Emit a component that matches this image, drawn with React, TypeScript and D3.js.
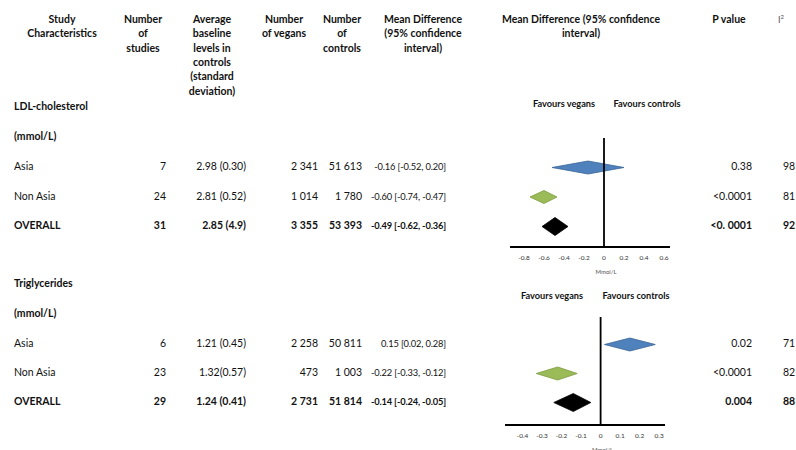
import React from "react";
import * as d3 from "d3";

// ---------- data ----------
const CATEGORIES = ["Asia", "Non Asia", "OVERALL"];

const LDL_STUDIES = [7, 24, 31];
const LDL_BASELINE = ["2.98 (0.30)", "2.81 (0.52)", "2.85 (4.9)"];
const LDL_VEGANS = [2341, 1014, 3355];
const LDL_CONTROLS = [51613, 1780, 53393];
const LDL_MD = [-0.16, -0.6, -0.49];
const LDL_LO = [-0.52, -0.74, -0.62];
const LDL_HI = [0.2, -0.47, -0.36];
const LDL_P = ["0.38", "<0.0001", "<0. 0001"];
const LDL_I2 = ["98", "81", "92"];
const LDL_TICKS = [-0.8, -0.6, -0.4, -0.2, 0, 0.2, 0.4, 0.6];

const TG_STUDIES = [6, 23, 29];
const TG_BASELINE = ["1.21 (0.45)", "1.32(0.57)", "1.24 (0.41)"];
const TG_VEGANS = [2258, 473, 2731];
const TG_CONTROLS = [50811, 1003, 51814];
const TG_MD = [0.15, -0.22, -0.14];
const TG_LO = [0.02, -0.33, -0.24];
const TG_HI = [0.28, -0.12, -0.05];
const TG_P = ["0.02", "<0.0001", "0.004"];
const TG_I2 = ["71", "82", "88"];
const TG_TICKS = [-0.4, -0.3, -0.2, -0.1, 0, 0.1, 0.2, 0.3];

const HEADERS: { x: number; lines: string[] }[] = [
  { x: 62, lines: ["Study", "Characteristics"] },
  { x: 143, lines: ["Number", "of", "studies"] },
  { x: 212, lines: ["Average", "baseline", "levels in", "controls", "(standard", "deviation)"] },
  { x: 284, lines: ["Number", "of vegans"] },
  { x: 342, lines: ["Number", "of", "controls"] },
  { x: 423, lines: ["Mean Difference", "(95% confidence", "interval)"] },
  { x: 581, lines: ["Mean Difference (95% confidence", "interval)"] },
  { x: 729, lines: ["P value"] },
];

const locale = d3.formatLocale({
  decimal: ".",
  thousands: "\u00a0",
  grouping: [3],
  currency: ["", ""],
  minus: "-",
});
const fmt2 = locale.format(".2f");
const fmtInt = locale.format(",d");
const fmtTick = (v: number) => (v === 0 ? "0" : locale.format(".1f")(v));

const FONT = "Lato, 'Open Sans', sans-serif";
const COLORS = ["#4f81bd", "#9bbb59", "#000000"];
const STROKES = ["#3a6496", "#7a9a3e", "#000000"];

type Section = {
  title: string;
  titleY: number;
  unitY: number;
  rowY: [number, number];
  studies: number[];
  baseline: string[];
  vegans: number[];
  controls: number[];
  md: number[];
  lo: number[];
  hi: number[];
  p: string[];
  i2: string[];
  ticks: number[];
  domain: [number, number];
  axisRange: [number, number];
  axisY: number;
  lineTop: number;
  favoursY: number;
  favoursX: [number, number];
};

const SECTIONS: Section[] = [
  {
    title: "LDL-cholesterol",
    titleY: 110,
    unitY: 140,
    rowY: [170, 229],
    studies: LDL_STUDIES,
    baseline: LDL_BASELINE,
    vegans: LDL_VEGANS,
    controls: LDL_CONTROLS,
    md: LDL_MD,
    lo: LDL_LO,
    hi: LDL_HI,
    p: LDL_P,
    i2: LDL_I2,
    ticks: LDL_TICKS,
    domain: [-0.94, 0.66],
    axisRange: [510, 670],
    axisY: 247,
    lineTop: 138,
    favoursY: 107,
    favoursX: [564, 647],
  },
  {
    title: "Triglycerides",
    titleY: 287,
    unitY: 317,
    rowY: [347, 405],
    studies: TG_STUDIES,
    baseline: TG_BASELINE,
    vegans: TG_VEGANS,
    controls: TG_CONTROLS,
    md: TG_MD,
    lo: TG_LO,
    hi: TG_HI,
    p: TG_P,
    i2: TG_I2,
    ticks: TG_TICKS,
    domain: [-0.49, 0.33],
    axisRange: [505, 665],
    axisY: 425,
    lineTop: 317,
    favoursY: 299,
    favoursX: [552, 636],
  },
];

function SectionView({ s }: { s: Section }) {
  const x = d3.scaleLinear().domain(s.domain).range(s.axisRange);
  const y = d3.scalePoint<string>().domain(CATEGORIES).range(s.rowY);
  const line = d3.line<[number, number]>();
  const rowFont = 10.5;
  return (
    <g>
      <text x={14} y={s.titleY} fontWeight="bold" fontSize={10.5}>
        {s.title}
      </text>
      <text x={14} y={s.unitY} fontWeight="bold" fontSize={10.5}>
        (mmol/L)
      </text>
      <text x={s.favoursX[0]} y={s.favoursY} fontWeight="bold" fontSize={9.2} textAnchor="middle">
        Favours vegans
      </text>
      <text x={s.favoursX[1]} y={s.favoursY} fontWeight="bold" fontSize={9.2} textAnchor="middle">
        Favours controls
      </text>
      {CATEGORIES.map((c, i) => {
        const yy = y(c) as number;
        const bold = c === "OVERALL" ? "bold" : "normal";
        const h = c === "OVERALL" ? 9 : 6.5;
        const dy = yy - 2.5;
        const pts: [number, number][] = [
          [x(s.lo[i]), dy],
          [x(s.md[i]), dy - h],
          [x(s.hi[i]), dy],
          [x(s.md[i]), dy + h],
        ];
        return (
          <g key={c} fontSize={rowFont} fontWeight={bold}>
            <text x={14} y={yy}>{c}</text>
            <text x={166} y={yy} textAnchor="end">{s.studies[i]}</text>
            <text x={246} y={yy} textAnchor="end">{s.baseline[i]}</text>
            <text x={318} y={yy} textAnchor="end">{fmtInt(s.vegans[i])}</text>
            <text x={362} y={yy} textAnchor="end">{fmtInt(s.controls[i])}</text>
            <text x={446} y={yy} textAnchor="end" fontSize={9.3} letterSpacing={-0.15}>
              {`${fmt2(s.md[i])} [${fmt2(s.lo[i])}, ${fmt2(s.hi[i])}]`}
            </text>
            <text x={752} y={yy} textAnchor="end">{s.p[i]}</text>
            <text x={783} y={yy}>{s.i2[i]}</text>
            <path
              d={line(pts) + "Z"}
              fill={COLORS[i]}
              stroke={STROKES[i]}
              strokeWidth={0.8}
            />
          </g>
        );
      })}
      <line x1={x(0)} x2={x(0)} y1={s.lineTop} y2={s.axisY} stroke="#000" strokeWidth={1.8} />
      <line x1={s.axisRange[0]} x2={s.axisRange[1]} y1={s.axisY} y2={s.axisY} stroke="#000" strokeWidth={1.8} />
      {s.ticks.map((t) => (
        <text key={t} x={x(t)} y={s.axisY + 13} fontSize={6.5} textAnchor="middle" fill="#333">
          {fmtTick(t)}
        </text>
      ))}
      <text x={x(0) + 2} y={s.axisY + 27} fontSize={6} textAnchor="middle" fill="#555">
        Mmol/L
      </text>
    </g>
  );
}

export default function App() {
  return (
    <svg
      width={796}
      height={450}
      style={{ position: "absolute", left: 0, top: 0, background: "#fff" }}
      fontFamily={FONT}
      fill="#111"
    >
      <rect width={796} height={450} fill="#fff" />
      {HEADERS.map((h) =>
        h.lines.map((l, j) => (
          <text key={h.x + "-" + j} x={h.x} y={23 + j * 14.3} textAnchor="middle" fontWeight="bold" fontSize={10.5}>
            {l}
          </text>
        ))
      )}
      <text x={778} y={23} fontSize={9} fill="#555">
        I<tspan fontSize={6} dy={-4}>2</tspan>
      </text>
      {SECTIONS.map((s) => (
        <SectionView key={s.title} s={s} />
      ))}
    </svg>
  );
}
